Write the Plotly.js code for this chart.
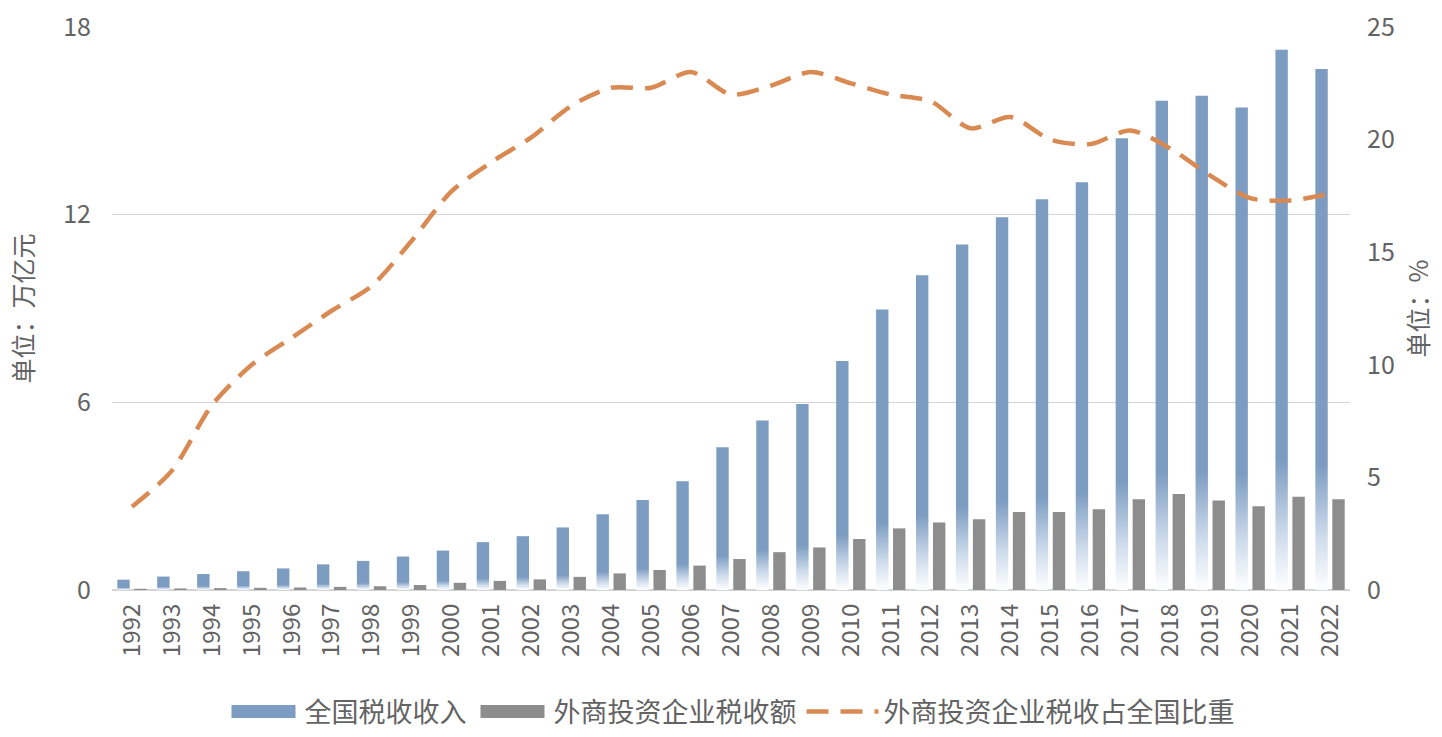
<!DOCTYPE html>
<html>
<head>
<meta charset="utf-8">
<script src="https://cdn.plot.ly/plotly-3.0.1.min.js"></script>
<style>
  html, body { margin: 0; padding: 0; background: #ffffff; }
  #chart { width: 1442px; height: 737px; }
</style>
</head>
<body>
<div id="chart"></div>
<script>
// 年份
const years = ['1992','1993','1994','1995','1996','1997','1998','1999','2000','2001',
  '2002','2003','2004','2005','2006','2007','2008','2009','2010','2011',
  '2012','2013','2014','2015','2016','2017','2018','2019','2020','2021','2022'];

// 全国税收收入（万亿元）
const taxTotal = [0.33, 0.43, 0.51, 0.60, 0.69, 0.82, 0.93, 1.07, 1.26, 1.53,
  1.72, 2.00, 2.42, 2.88, 3.48, 4.56, 5.42, 5.95, 7.32, 8.97,
  10.06, 11.05, 11.92, 12.49, 13.04, 14.44, 15.64, 15.80, 15.43, 17.27, 16.66];

// 外商投资企业税收额（万亿元）
const fieTax = [0.04, 0.05, 0.06, 0.07, 0.08, 0.10, 0.12, 0.16, 0.23, 0.29,
  0.34, 0.42, 0.53, 0.64, 0.78, 0.99, 1.21, 1.36, 1.63, 1.97,
  2.16, 2.26, 2.49, 2.49, 2.58, 2.90, 3.07, 2.86, 2.68, 2.98, 2.90];

// 外商投资企业税收占全国比重（%）
const fieShare = [3.7, 5.3, 8.2, 10.0, 11.2, 12.4, 13.5, 15.5, 17.7, 19.0,
  20.1, 21.5, 22.3, 22.3, 23.0, 22.0, 22.4, 23.0, 22.5, 22.0,
  21.7, 20.5, 21.0, 20.0, 19.8, 20.4, 19.6, 18.4, 17.4, 17.3, 17.6];

// 坐标轴刻度
const leftTicks = [0, 6, 12, 18];
const leftGrid = [6, 12];
const rightTicks = [0, 5, 10, 15, 20, 25];

const names = ['全国税收收入', '外商投资企业税收额', '外商投资企业税收占全国比重'];

const BLUE = '#7c9cc1';
const GRAY = '#8d8d8d';
const ORANGE = '#d98a52';
const TEXT = '#636363';
const CJK = '"Noto Sans CJK SC", "Noto Sans", sans-serif';

const traces = [
  {
    type: 'bar', name: names[0], x: years, y: taxTotal,
    marker: { color: BLUE }, yaxis: 'y', hoverinfo: 'x+y'
  },
  {
    type: 'bar', name: names[1], x: years, y: fieTax,
    marker: { color: GRAY }, yaxis: 'y', hoverinfo: 'x+y'
  },
  {
    type: 'scatter', mode: 'lines', name: names[2], x: years, y: fieShare,
    yaxis: 'y2',
    line: { color: ORANGE, width: 4.5, dash: '22px,12px', shape: 'spline', smoothing: 0.8 },
    hoverinfo: 'x+y'
  }
];

const layout = {
  width: 1442, height: 737,
  paper_bgcolor: '#ffffff', plot_bgcolor: '#ffffff',
  margin: { l: 112, r: 92, t: 27, b: 147 },
  font: { family: CJK, color: TEXT },
  barmode: 'group', bargap: 0.15, bargroupgap: 0.27,
  showlegend: true,
  legend: {
    orientation: 'h', x: 0.5, xanchor: 'center',
    yref: 'container', y: 0.034, yanchor: 'middle',
    font: { size: 27, color: TEXT, family: CJK }, itemwidth: 72,
    traceorder: 'normal', tracegroupgap: 0
  },
  xaxis: {
    type: 'category', tickangle: -90, ticks: '', showgrid: false,
    showline: false, zeroline: false,
    tickfont: { size: 24, color: TEXT, family: CJK },
    ticklabelstandoff: 8
  },
  yaxis: {
    range: [0, 18], tickmode: 'array', tickvals: leftTicks,
    showgrid: false, zeroline: true, zerolinecolor: '#d4d4d4', zerolinewidth: 1.5,
    showline: false, ticks: '',
    tickfont: { size: 25, color: TEXT, family: CJK },
    ticklabelstandoff: 20,
    minor: { tickmode: 'array', tickvals: leftGrid, showgrid: true, gridcolor: '#d4d4d4', gridwidth: 1.3, ticks: '' },
    title: { text: '单位：万亿元', font: { size: 25, color: TEXT, family: CJK }, standoff: 22 }
  },
  yaxis2: {
    overlaying: 'y', side: 'right', range: [0, 25], tickmode: 'array', tickvals: rightTicks,
    showgrid: false, zeroline: false, showline: false, ticks: '',
    tickfont: { size: 25, color: TEXT, family: CJK },
    ticklabelstandoff: 16,
    title: { text: '单位：%', font: { size: 25, color: TEXT, family: CJK }, standoff: 16 }
  }
};

// 全国税收收入柱体底部渐隐为白色
function applyBarFade(gd) {
  const svg = gd.querySelector('svg.main-svg');
  if (!svg) return;
  let defs = svg.querySelector('defs');
  if (!defs) {
    defs = document.createElementNS('http://www.w3.org/2000/svg', 'defs');
    svg.insertBefore(defs, svg.firstChild);
  }
  if (!svg.querySelector('#blueFade')) {
    const grad = document.createElementNS('http://www.w3.org/2000/svg', 'linearGradient');
    grad.setAttribute('id', 'blueFade');
    grad.setAttribute('x1', '0'); grad.setAttribute('y1', '0');
    grad.setAttribute('x2', '0'); grad.setAttribute('y2', '1');
    [[0, BLUE, 1], [0.76, BLUE, 1], [0.9, '#cfdcec', 1], [1, '#ffffff', 1]].forEach(function (s) {
      const st = document.createElementNS('http://www.w3.org/2000/svg', 'stop');
      st.setAttribute('offset', s[0]);
      st.setAttribute('stop-color', s[1]);
      st.setAttribute('stop-opacity', s[2]);
      grad.appendChild(st);
    });
    defs.appendChild(grad);
  }
  const barTraces = gd.querySelectorAll('.barlayer .trace.bars');
  if (barTraces.length) {
    barTraces[0].querySelectorAll('path').forEach(function (p) {
      p.style.fill = 'url(#blueFade)';
    });
  }
  // 图例中柱形系列使用宽矩形色块
  gd.querySelectorAll('.legend .traces').forEach(function (tr, i) {
    if (i > 1) return;
    tr.querySelectorAll('.legendpoints path').forEach(function (p) {
      p.setAttribute('d', 'M32,6.5H-32V-6.5H32Z');
    });
  });
}

const gd = document.getElementById('chart');
Plotly.newPlot(gd, traces, layout, { displayModeBar: false, staticPlot: true }).then(function () {
  applyBarFade(gd);
  gd.on('plotly_afterplot', function () { applyBarFade(gd); });
});
</script>
</body>
</html>
